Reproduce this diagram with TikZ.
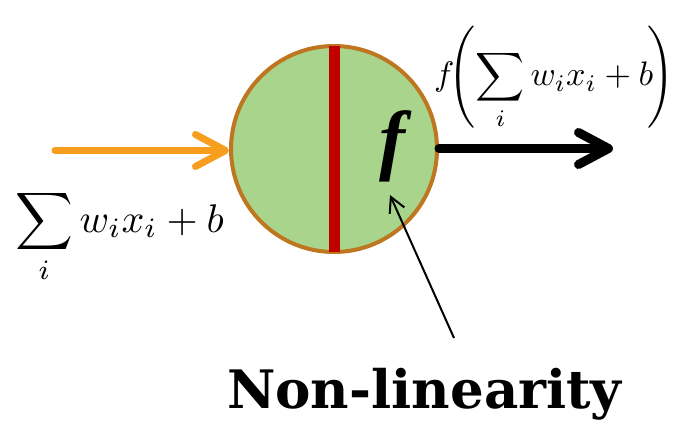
\documentclass[tikz,border=0pt]{standalone}
\usepackage{fontspec}
\setmainfont{Liberation Serif}
\newfontfamily\notefont{DejaVu Serif}
\usetikzlibrary{arrows.meta}
\definecolor{cellgreen}{RGB}{168,213,139}
\definecolor{rimbrown}{RGB}{190,118,32}
\definecolor{barred}{RGB}{192,0,0}
\definecolor{inorange}{RGB}{247,158,30}
\newcommand{\bigmath}[2]{\scalebox{#1}{$\displaystyle #2$}}

\begin{document}
\begin{tikzpicture}[x=1pt,y=-1pt,
  formula/.style={anchor=base west,inner sep=0pt},
  chevron/.style={-{Straight Barb[length=30pt,width=32pt,round]},line cap=round}]
  \useasboundingbox (0,0) rectangle (685,422);
  % the neuron
  \node[circle,draw=rimbrown,fill=cellgreen,line width=4pt,minimum size=206pt,inner sep=0pt] (neuron) at (334,149) {};
  \draw[barred,line width=11pt,shorten <=2pt,shorten >=2pt] (neuron.north) -- (neuron.south);
  \node[inner sep=0pt,font=\fontsize{78}{78}\selectfont\bfseries\itshape] (fsym) at (392,146) {f};
  % input and output
  \coordinate (start) at (55,150.5);
  \coordinate (finish) at (613,148.5);
  \draw[chevron,inorange,line width=7pt] (start) -- (neuron.west |- start);
  \draw[chevron,black,line width=9pt] (neuron.east |- finish) -- (finish);
  \node[formula] (sumin) at (15,232) {\bigmath{4.0}{\sum_i w_i x_i + b}};
  \node[formula] (fout) at (434,86) {\bigmath{3.4}{f\!\Bigg(\!\sum_i w_i x_i + b\!\Bigg)}};
  % label
  \node[anchor=base west,inner sep=0pt,font=\notefont\bfseries\fontsize{53}{53}\selectfont] (nonlin) at (227,408) {Non-linearity};
  \coordinate (tail) at (454,338);
  \coordinate (tip) at (390,195);
  \draw[-{Straight Barb[length=15pt,width=16pt]},line width=2pt] (tail) -- (tip);
\end{tikzpicture}
\end{document}
